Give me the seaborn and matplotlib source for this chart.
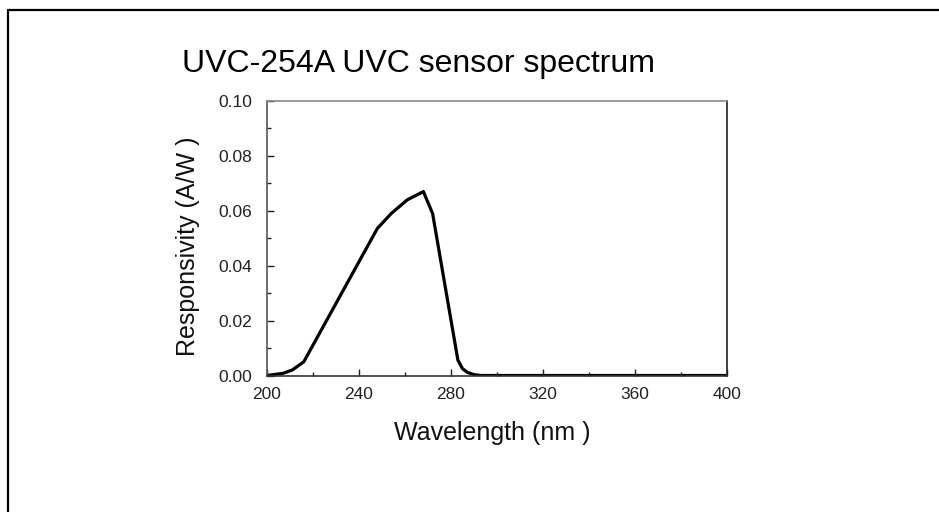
import matplotlib
matplotlib.use("Agg")
import matplotlib.pyplot as plt
from matplotlib.lines import Line2D
from matplotlib.ticker import MultipleLocator
import seaborn as sns
import pandas as pd

# Data
wavelength = [200, 207, 211, 216, 232, 248, 254, 261, 268, 272, 283, 285, 287, 290, 293, 320, 360, 400]
responsivity = [0.0, 0.0008, 0.002, 0.005, 0.0293, 0.0536, 0.059, 0.064, 0.067, 0.059,
                0.0056, 0.0025, 0.0012, 0.0003, 0.0, 0.0, 0.0, 0.0]
x_ticks = [200, 240, 280, 320, 360, 400]
y_ticks = [0.00, 0.02, 0.04, 0.06, 0.08, 0.10]
title = "UVC-254A UVC sensor spectrum"
x_label = "Wavelength (nm )"
y_label = "Responsivity (A/W )"

sns.set_theme(style="white")
plt.rcParams['font.family'] = ['Liberation Sans', 'DejaVu Sans']

df = pd.DataFrame({"wl": wavelength, "resp": responsivity})

fig = plt.figure(figsize=(9.39, 5.12), dpi=100)
fig.patch.set_facecolor("white")
ax = fig.add_axes([267 / 939, 1 - 375.5 / 512, 460 / 939, 274.5 / 512])

sns.lineplot(data=df, x="wl", y="resp", ax=ax, color="black", linewidth=2.3,
             estimator=None, sort=False)

ax.set_xlim(200, 400)
ax.set_ylim(0, 0.10)
ax.set_xticks(x_ticks)
ax.set_yticks(y_ticks)
ax.set_xticklabels([str(v) for v in x_ticks])
ax.set_yticklabels([f"{v:.2f}" for v in y_ticks])
ax.xaxis.set_minor_locator(MultipleLocator(20))
ax.yaxis.set_minor_locator(MultipleLocator(0.01))

ax.tick_params(axis="both", which="both", bottom=True, left=True, top=False, right=False)
ax.tick_params(axis="both", which="major", direction="in", length=5, width=1.0,
               color="#222222", labelsize=12.5, labelcolor="#222222")
ax.tick_params(axis="both", which="minor", direction="in", length=3, width=1.0,
               color="#222222")
ax.tick_params(axis="y", which="major", pad=10.5)
ax.tick_params(axis="x", which="major", pad=8.5)

for side, col in [("top", "#8a8a8a"), ("left", "#555555"), ("right", "#222222"), ("bottom", "#333333")]:
    ax.spines[side].set_visible(True)
    ax.spines[side].set_color(col)
    ax.spines[side].set_linewidth(1.2)

ax.set_xlabel(x_label, fontsize=18, color="#111111")
ax.set_ylabel(y_label, fontsize=18, color="#111111")
ax.xaxis.set_label_coords(0.49, -0.165)
ax.yaxis.set_label_coords(-0.145, 0.47)

fig.text(182 / 939, 1 - 72 / 512, title, fontsize=23, color="black",
         ha="left", va="baseline")

# outer frame lines (top and left visible in reference)
fig.add_artist(Line2D([7.5 / 939, 1.0], [1 - 9.5 / 512, 1 - 9.5 / 512],
                      transform=fig.transFigure, color="black", linewidth=1.6))
fig.add_artist(Line2D([7.5 / 939, 7.5 / 939], [0.0, 1 - 9.5 / 512],
                      transform=fig.transFigure, color="black", linewidth=1.6))

fig.savefig("out.png", dpi=100, facecolor="white")
